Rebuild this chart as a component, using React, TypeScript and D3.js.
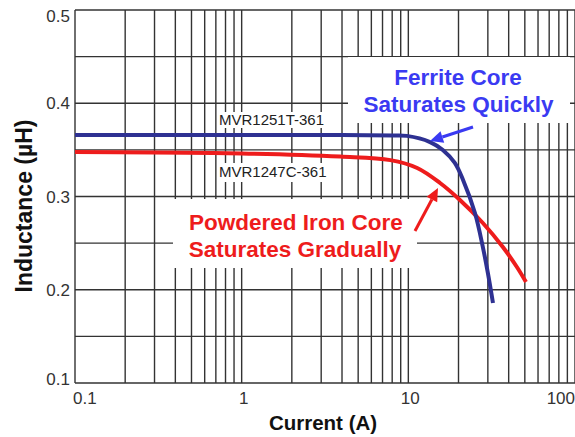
import React from "react";
import * as d3 from "d3";

const xTickValues = [0.1, 1, 10, 100];
const xTickLabels = ["0.1", "1", "10", "100"];
const yTickValues = [0.1, 0.2, 0.3, 0.4, 0.5];
const yTickLabels = ["0.1", "0.2", "0.3", "0.4", "0.5"];

const ferriteCurrent = [0.1, 1, 3.9, 8.1, 9.8, 13.5, 16.1, 19.0, 21.3, 25.1, 28.0, 30.0, 32.2];
const ferriteInductance = [0.366, 0.366, 0.366, 0.3655, 0.365, 0.3584, 0.3499, 0.336, 0.3177, 0.2823, 0.2458, 0.218, 0.1858];

const ironCurrent = [0.1, 1, 3.9, 7.8, 11.3, 15.5, 20.4, 28.0, 36.9, 44.8, 50.8];
const ironInductance = [0.3477, 0.3462, 0.3428, 0.339, 0.3306, 0.3145, 0.2963, 0.2716, 0.2458, 0.2244, 0.2083];

const W = 575;
const H = 437;
const FONT = "'Liberation Sans', Arial, Helvetica, sans-serif";

function arrow(x1: number, y1: number, x2: number, y2: number, color: string, len = 13, half = 6) {
  const a = Math.atan2(y2 - y1, x2 - x1);
  const bx = x2 - len * Math.cos(a);
  const by = y2 - len * Math.sin(a);
  const px = -Math.sin(a) * half;
  const py = Math.cos(a) * half;
  return (
    <g>
      <line x1={x1} y1={y1} x2={bx} y2={by} stroke={color} strokeWidth={3} />
      <path d={`M${x2},${y2}L${bx + px},${by + py}L${bx - px},${by - py}Z`} fill={color} />
    </g>
  );
}

export default function App() {
  const x = d3.scaleLog().domain([0.1, 100]).range([75, 575]);
  const y = d3.scaleLinear().domain([0.1, 0.5]).range([383, 10]);

  const vGrid = x.ticks();
  const hGrid = y.ticks(8);

  const line = d3
    .line<[number, number]>()
    .x((d) => x(d[0]))
    .y((d) => y(d[1]))
    .curve(d3.curveCatmullRom.alpha(0.5));

  const ferrite = line(ferriteCurrent.map((c, i) => [c, ferriteInductance[i]] as [number, number])) || "";
  const iron = line(ironCurrent.map((c, i) => [c, ironInductance[i]] as [number, number])) || "";

  const grid = "#333";
  const blueText = "#3a3af2";
  const red = "#ee1c1c";
  const navy = "#2e3192";

  return (
    <svg
      width={W}
      height={H}
      style={{ position: "absolute", left: 0, top: 0, background: "#fff" }}
      fontFamily={FONT}
    >
      <rect x={0} y={0} width={W} height={H} fill="#fff" />
      {vGrid.map((v, i) => (
        <line key={"v" + i} x1={x(v)} x2={x(v)} y1={y(0.5)} y2={y(0.1)} stroke={grid} strokeWidth={1.4} />
      ))}
      {hGrid.map((v, i) => (
        <line key={"h" + i} x1={x(0.1)} x2={x(100)} y1={y(v)} y2={y(v)} stroke={grid} strokeWidth={1.4} />
      ))}

      <rect x={348} y={57} width={222} height={66} fill="#fff" />
      <rect x={217} y={112} width={112} height={16} fill="#fff" />
      <rect x={217} y={163} width={114} height={19} fill="#fff" />
      <rect x={173} y={199} width={244} height={69} fill="#fff" />

      <path d={iron} fill="none" stroke={red} strokeWidth={4} />
      <path d={ferrite} fill="none" stroke={navy} strokeWidth={4} />

      <text x={219} y={125} fontSize={15} fill="#222">MVR1251T-361</text>
      <text x={219} y={177} fontSize={15} fill="#222">MVR1247C-361</text>

      <text x={458} y={85} fontSize={22.5} fontWeight="bold" fill={blueText} textAnchor="middle">Ferrite Core</text>
      <text x={458.5} y={112} fontSize={22.5} fontWeight="bold" fill={blueText} textAnchor="middle">Saturates Quickly</text>
      {arrow(473, 127, 430, 141, blueText)}

      <text x={296} y={230} fontSize={22.5} fontWeight="bold" fill={red} textAnchor="middle">Powdered Iron Core</text>
      <text x={295} y={257} fontSize={22.5} fontWeight="bold" fill={red} textAnchor="middle">Saturates Gradually</text>
      {arrow(415, 231, 438, 188, red)}

      {yTickValues.map((v, i) => (
        <text
          key={"yt" + i}
          x={70}
          y={y(v) + (v === 0.5 ? 12 : v === 0.1 ? 2 : 6)}
          fontSize={17}
          fill="#333"
          textAnchor="end"
        >
          {yTickLabels[i]}
        </text>
      ))}
      {xTickValues.map((v, i) => (
        <text
          key={"xt" + i}
          x={i === 0 ? x(v) - 2 : i === xTickValues.length - 1 ? x(v) : x(v) + 2}
          y={404}
          fontSize={17}
          fill="#333"
          textAnchor={i === 0 ? "start" : i === xTickValues.length - 1 ? "end" : "middle"}
        >
          {xTickLabels[i]}
        </text>
      ))}

      <text x={323} y={430} fontSize={20.5} fontWeight="bold" fill="#111" textAnchor="middle">
        Current (A)
      </text>
      <text
        transform="translate(32,206) rotate(-90)"
        fontSize={23}
        fontWeight="bold"
        fill="#111"
        textAnchor="middle"
      >
        Inductance (µH)
      </text>
    </svg>
  );
}
